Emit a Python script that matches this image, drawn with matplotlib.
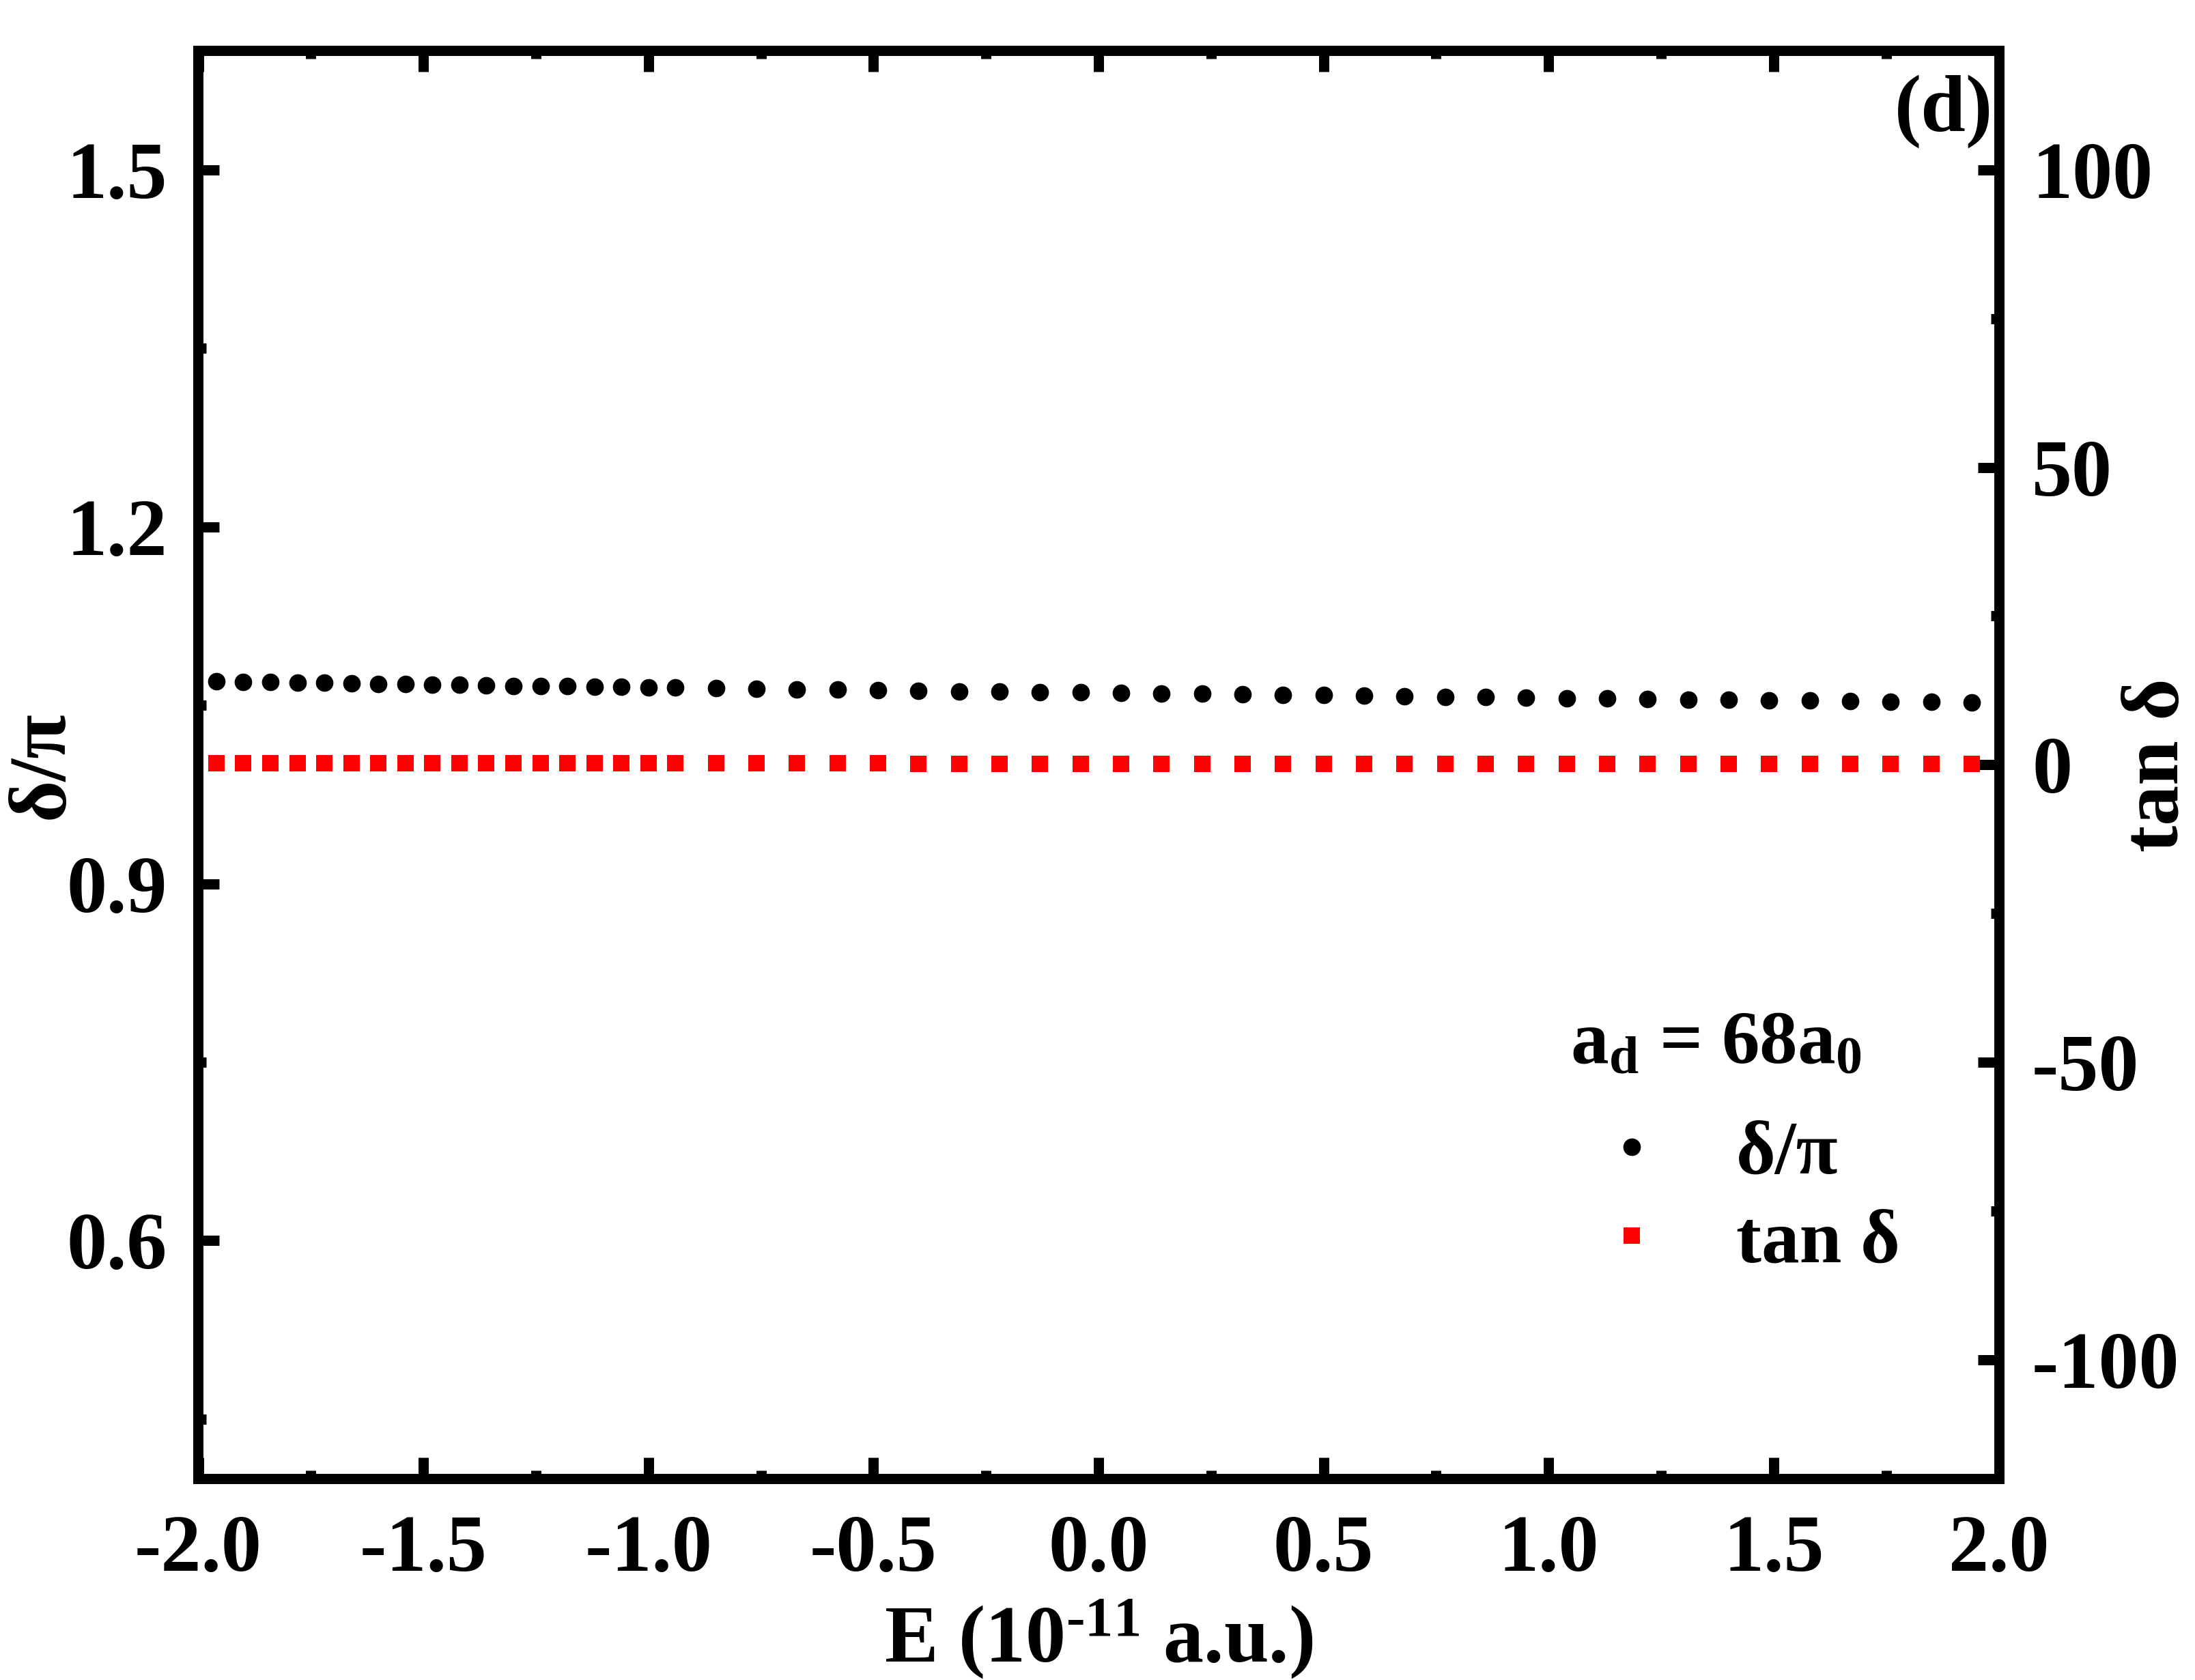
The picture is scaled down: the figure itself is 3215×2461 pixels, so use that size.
import matplotlib
matplotlib.use('Agg')
import matplotlib.pyplot as plt
from matplotlib.ticker import MultipleLocator, FormatStrFormatter

# data
energy = [-1.96, -1.90, -1.84, -1.78, -1.72, -1.66, -1.60, -1.54, -1.48, -1.42,
          -1.36, -1.30, -1.24, -1.18, -1.12, -1.06, -1.00, -0.94,
          -0.85, -0.76, -0.67, -0.58, -0.49, -0.40, -0.31, -0.22, -0.13, -0.04,
          0.05, 0.14, 0.23, 0.32, 0.41, 0.50, 0.59, 0.68, 0.77, 0.86,
          0.95, 1.04, 1.13, 1.22, 1.31, 1.40, 1.49, 1.58, 1.67, 1.76, 1.85, 1.94]

delta_over_pi = [1.0700, 1.0696, 1.0694, 1.0690, 1.0689, 1.0685, 1.0680, 1.0677, 1.0673, 1.0670,
                 1.0668, 1.0664, 1.0662, 1.0659, 1.0656, 1.0654, 1.0650, 1.0648,
                 1.0643, 1.0639, 1.0635, 1.0631, 1.0626, 1.0622, 1.0618, 1.0614, 1.0610, 1.0607,
                 1.0603, 1.0598, 1.0596, 1.0591, 1.0587, 1.0584, 1.0580, 1.0574, 1.0569, 1.0567,
                 1.0562, 1.0560, 1.0556, 1.0551, 1.0549, 1.0545, 1.0542, 1.0539, 1.0534, 1.0529,
                 1.0527, 1.0522]

tan_delta = [0.223, 0.222, 0.221, 0.220, 0.220, 0.219, 0.217, 0.216, 0.215, 0.214,
             0.214, 0.213, 0.212, 0.211, 0.210, 0.210, 0.209, 0.208,
             0.207, 0.205, 0.204, 0.203, 0.202, 0.200, 0.199, 0.198, 0.197, 0.196,
             0.195, 0.193, 0.193, 0.191, 0.190, 0.189, 0.188, 0.186, 0.185, 0.184,
             0.183, 0.182, 0.181, 0.179, 0.179, 0.178, 0.177, 0.176, 0.174, 0.173,
             0.172, 0.171]

x_ticks = [-2.0, -1.5, -1.0, -0.5, 0.0, 0.5, 1.0, 1.5, 2.0]

plt.rcParams['font.family'] = ['Liberation Serif', 'DejaVu Serif']
plt.rcParams['font.weight'] = 'bold'
plt.rcParams['axes.labelweight'] = 'bold'
plt.rcParams['axes.unicode_minus'] = False
plt.rcParams['mathtext.fontset'] = 'custom'
plt.rcParams['mathtext.rm'] = 'Liberation Serif:bold'
plt.rcParams['mathtext.it'] = 'Liberation Serif:bold'
plt.rcParams['mathtext.bf'] = 'Liberation Serif:bold'
plt.rcParams['mathtext.default'] = 'rm'

W, H = 3216, 2461
fig = plt.figure(figsize=(W / 100, H / 100), dpi=100)
ax = fig.add_axes([290.5 / W, 1 - 2166 / H, 2637 / W, 2091.5 / H])
ax2 = ax.twinx()

lw = 10.8
for a in (ax, ax2):
    for s in a.spines.values():
        s.set_linewidth(lw)

dots, = ax.plot(energy, delta_over_pi, 'o', color='black', ms=18.5, mew=0, label='δ/π')
squares, = ax2.plot(energy, tan_delta, 's', color='red', ms=16.6, mew=0, label='tan δ')

ax.set_xlim(-2.0, 2.0)
ax.set_ylim(0.4, 1.6)
ax2.set_ylim(-120, 120)

ax.set_xticks(x_ticks)
ax.xaxis.set_minor_locator(MultipleLocator(0.25))
ax.xaxis.set_major_formatter(FormatStrFormatter('%.1f'))
ax.yaxis.set_major_locator(MultipleLocator(0.3))
ax.yaxis.set_minor_locator(MultipleLocator(0.15))
ax.yaxis.set_major_formatter(FormatStrFormatter('%.1f'))
ax2.yaxis.set_major_locator(MultipleLocator(50))
ax2.yaxis.set_minor_locator(MultipleLocator(25))
ax2.yaxis.set_major_formatter(FormatStrFormatter('%d'))

ax.tick_params(axis='x', which='both', direction='in', top=True, bottom=True,
               width=lw, labelsize=85, pad=38)
ax.tick_params(axis='y', which='both', direction='in', left=True, right=False,
               width=lw, labelsize=85, pad=33)
ax2.tick_params(axis='y', which='both', direction='in', left=False, right=True,
                width=lw, labelsize=85, pad=35)
for a in (ax, ax2):
    a.tick_params(which='major', length=22.3)
    a.tick_params(which='minor', length=8.3)

# hyphen (U+2010) in the exponent, as in the original label
ax.set_xlabel('E (10$^{\u201011}$ a.u.)', fontsize=85, fontweight='bold', va='baseline')
ax.xaxis.set_label_coords(0.5, (2166 - 2435) / 2091.5)
ax.set_ylabel('δ/π', fontsize=85, fontweight='bold', va='baseline')
ax.yaxis.set_label_coords((92 - 290.5) / 2637, 0.5)
ax2.set_ylabel('tan δ', fontsize=85, fontweight='bold', va='baseline')
ax2.yaxis.set_label_coords((3190 - 290.5) / 2637, 0.5)

fig.text(2847 / W, 1 - 192 / H, '(d)', ha='center', va='baseline', fontsize=85)
fig.text(2300 / W, 1 - 1557 / H, r'$a_d$ = 68$a_0$', ha='left', va='baseline', fontsize=80)

ax2.legend(handles=[dots, squares], loc='center left',
           bbox_to_anchor=(2300 / W, 1 - 1756.5 / H), bbox_transform=fig.transFigure,
           frameon=False, fontsize=80, handlelength=1.62, handletextpad=0.57,
           labelspacing=0.26, borderpad=0, borderaxespad=0, numpoints=1)

fig.savefig('out.png', dpi=100)
